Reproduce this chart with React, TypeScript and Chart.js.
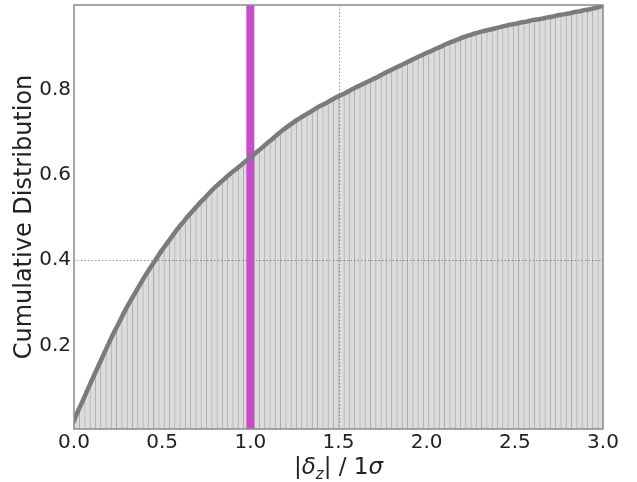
import React, { useEffect, useRef } from "react";
import { Chart, registerables } from "chart.js";

Chart.register(...registerables);

// ---- data ----
const binWidth = 0.03;
const cdfValues = [
  0.039, 0.066, 0.094, 0.122, 0.149, 0.176, 0.203, 0.229, 0.253, 0.278,
  0.301, 0.322, 0.343, 0.364, 0.383, 0.402, 0.421, 0.438, 0.455, 0.472,
  0.487, 0.502, 0.516, 0.530, 0.543, 0.556, 0.569, 0.580, 0.591, 0.602,
  0.612, 0.622, 0.632, 0.642, 0.653, 0.663, 0.674, 0.684, 0.695, 0.705,
  0.714, 0.723, 0.731, 0.739, 0.746, 0.754, 0.761, 0.767, 0.774, 0.781,
  0.787, 0.793, 0.800, 0.806, 0.812, 0.818, 0.824, 0.830, 0.837, 0.843,
  0.849, 0.855, 0.861, 0.867, 0.873, 0.879, 0.885, 0.890, 0.896, 0.901,
  0.907, 0.912, 0.917, 0.922, 0.926, 0.930, 0.934, 0.937, 0.940, 0.943,
  0.946, 0.949, 0.952, 0.954, 0.957, 0.959, 0.962, 0.964, 0.966, 0.969,
  0.971, 0.974, 0.976, 0.978, 0.981, 0.983, 0.986, 0.988, 0.991, 0.994,
];
const curveStart = 0.022;
const curveEnd = 0.996;
const markerX = 1.0;
const xTicks = [0, 0.5, 1.0, 1.5, 2.0, 2.5, 3.0];
const yTicks = [0.2, 0.4, 0.6, 0.8];
const refGridX = [1.5];
const refGridY = [0.4];
const xMin = 0;
const xMax = 3;
const yMin = 0.004;
const yMax = 0.998;
const yLabel = "Cumulative Distribution";

const FONT = "'DejaVu Sans', sans-serif";

const framePlugin = {
  id: "framePlugin",
  afterDatasetDraw(chart: any, args: any) {
    if (args.index !== 0) return;
    const { ctx, chartArea } = chart;
    const xs = chart.scales.x;
    const ys = chart.scales.y;
    ctx.save();
    ctx.strokeStyle = "rgba(60,60,60,0.55)";
    ctx.lineWidth = 1;
    ctx.setLineDash([1.5, 2]);
    refGridY.forEach((v) => {
      const y = Math.round(ys.getPixelForValue(v)) + 0.5;
      ctx.beginPath();
      ctx.moveTo(chartArea.left, y);
      ctx.lineTo(chartArea.right, y);
      ctx.stroke();
    });
    refGridX.forEach((v) => {
      const x = Math.round(xs.getPixelForValue(v)) + 0.5;
      ctx.beginPath();
      ctx.moveTo(x, chartArea.top);
      ctx.lineTo(x, chartArea.bottom);
      ctx.stroke();
    });
    ctx.restore();
  },
  afterDraw(chart: any) {
    const { ctx, chartArea } = chart;
    ctx.save();
    ctx.strokeStyle = "#8a8a8a";
    ctx.lineWidth = 1.5;
    ctx.strokeRect(
      chartArea.left,
      chartArea.top,
      chartArea.right - chartArea.left,
      chartArea.bottom - chartArea.top
    );
    // x-axis label: |δ_z| / 1σ
    const parts: { t: string; font: string; dy: number }[] = [
      { t: "|", font: `23px ${FONT}`, dy: 0 },
      { t: "δ", font: `italic 23px ${FONT}`, dy: 0 },
      { t: "z", font: `italic 15px ${FONT}`, dy: 5 },
      { t: "| / 1", font: `23px ${FONT}`, dy: 0 },
      { t: "σ", font: `italic 23px ${FONT}`, dy: 0 },
    ];
    let total = 0;
    const widths = parts.map((p) => {
      ctx.font = p.font;
      const w = ctx.measureText(p.t).width;
      total += w;
      return w;
    });
    const cx = (chartArea.left + chartArea.right) / 2;
    let x = cx - total / 2;
    const baseY = 474;
    ctx.fillStyle = "#222";
    ctx.textBaseline = "alphabetic";
    ctx.textAlign = "left";
    parts.forEach((p, i) => {
      ctx.font = p.font;
      ctx.fillText(p.t, x, baseY + p.dy);
      x += widths[i];
    });
    ctx.restore();
  },
};

export default function App() {
  const canvasRef = useRef<HTMLCanvasElement | null>(null);

  useEffect(() => {
    if (!canvasRef.current) return;
    const centers = cdfValues.map((_, i) => xMin + binWidth * (i + 0.5));
    const barData = cdfValues.map((v, i) => ({ x: centers[i], y: v }));
    const curveData = [
      { x: xMin, y: curveStart },
      ...cdfValues.map((v, i) => ({ x: centers[i], y: v })),
      { x: xMax, y: curveEnd },
    ];
    const markerData = [
      { x: markerX, y: yMin },
      { x: markerX, y: yMax },
    ];

    const chart = new Chart(canvasRef.current, {
      type: "bar",
      data: {
        datasets: [
          {
            type: "bar",
            data: barData as any,
            backgroundColor: "#dcdcdc",
            borderColor: "#ababab",
            borderWidth: { left: 1, right: 0, top: 0, bottom: 0 } as any,
            borderSkipped: false,
            barPercentage: 1,
            categoryPercentage: 1,
            order: 3,
          },
          {
            type: "line",
            data: markerData as any,
            borderColor: "#c74dc9",
            borderWidth: 8,
            pointRadius: 0,
            order: 2,
          } as any,
          {
            type: "line",
            data: curveData as any,
            borderColor: "#7b7b7b",
            borderWidth: 4.5,
            pointRadius: 0,
            cubicInterpolationMode: "monotone",
            borderCapStyle: "round",
            borderJoinStyle: "round",
            order: 1,
          } as any,
        ],
      },
      options: {
        animation: false,
        responsive: false,
        maintainAspectRatio: false,
        layout: { padding: { left: 0, right: 34, top: 5, bottom: 0 } },
        plugins: {
          legend: { display: false },
          tooltip: { enabled: false },
        },
        scales: {
          x: {
            type: "linear",
            min: xMin,
            max: xMax,
            offset: false,
            grid: { display: false, drawTicks: false },
            border: { display: false },
            afterBuildTicks: (scale: any) => {
              scale.ticks = xTicks.map((v) => ({ value: v }));
            },
            afterFit: (scale: any) => {
              scale.height = 53;
              scale.paddingLeft = 0;
              scale.paddingRight = 0;
            },
            ticks: {
              autoSkip: false,
              maxRotation: 0,
              padding: 2,
              color: "#222",
              font: { family: FONT, size: 20 },
              callback: (v: any) => Number(v).toFixed(1),
            },
          },
          y: {
            type: "linear",
            min: yMin,
            max: yMax,
            grid: { display: false, drawTicks: false },
            border: { display: false },
            afterBuildTicks: (scale: any) => {
              scale.ticks = yTicks.map((v) => ({ value: v }));
            },
            afterFit: (scale: any) => {
              scale.width = 74;
              scale.paddingTop = 0;
              scale.paddingBottom = 0;
            },
            title: {
              display: true,
              text: yLabel,
              color: "#222",
              font: { family: FONT, size: 24, weight: "normal" },
              padding: { top: 10, bottom: 0 },
            },
            ticks: {
              padding: 3,
              color: "#222",
              font: { family: FONT, size: 20 },
              callback: (v: any) => Number(v).toFixed(1),
            },
          },
        },
      } as any,
      plugins: [framePlugin],
    });
    return () => chart.destroy();
  }, []);

  return (
    <div style={{ position: "absolute", left: 0, top: 0, width: 637, height: 482 }}>
      <canvas ref={canvasRef} width={637} height={482} style={{ display: "block" }} />
    </div>
  );
}
